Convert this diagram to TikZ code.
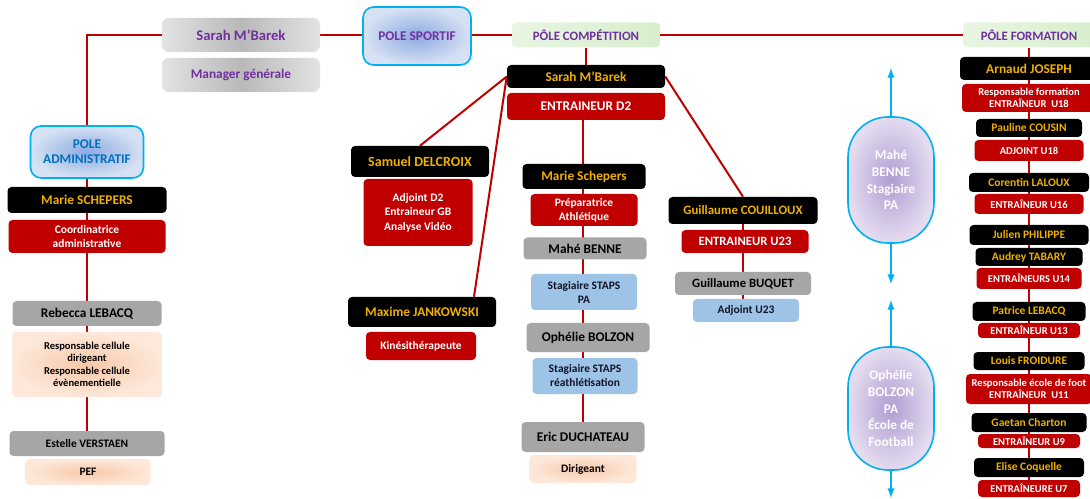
\documentclass[tikz,border=0pt]{standalone}
\usepackage{fontspec}
\setmainfont{Carlito}
\usetikzlibrary{backgrounds,calc}

\definecolor{rouge}{RGB}{192,0,0}
\definecolor{jaune}{RGB}{240,176,0}
\definecolor{mauve}{RGB}{112,48,160}
\definecolor{cyanb}{RGB}{0,176,240}
\definecolor{bleuc}{RGB}{157,195,230}
\definecolor{bleut}{RGB}{0,112,192}
\definecolor{grisf}{RGB}{166,166,166}
\definecolor{nuit}{RGB}{20,20,40}

\tikzset{
  wh/.style 2 args={minimum width={#1*0.75pt}, minimum height={#2*0.75pt}},
  fs/.style 2 args={font=\bfseries\fontsize{#1}{#2}\selectfont},
  boite/.style={rounded corners=3pt, inner sep=0pt, align=center},
  noir/.style={boite, fill=black, text=jaune},
  role/.style={boite, fill=rouge, text=white},
  gris/.style={boite, fill=grisf, text=black},
  bleu/.style={boite, fill=bleuc, text=nuit},
  peche/.style={boite, inner color={rgb,255:red,248;green,200;blue,168}, outer color={rgb,255:red,253;green,232;blue,218}, text=black},
  titre/.style={boite, rounded corners=5pt, left color=gray!22, right color=gray!22, middle color=gray!55, text=mauve},
  pole/.style={boite, rounded corners=8pt, draw=cyanb, line width=1.2pt, inner color={rgb,255:red,140;green,170;blue,225}, outer color={rgb,255:red,214;green,225;blue,243}},
  vert/.style={boite, left color={rgb,255:red,232;green,245;blue,226}, right color={rgb,255:red,216;green,238;blue,206}, text=mauve},
  ovale/.style={boite, rounded corners=30pt, draw=cyanb, line width=1.2pt, inner color={rgb,255:red,176;green,156;blue,210}, outer color={rgb,255:red,228;green,220;blue,240}, text=white},
  lien/.style={rouge, line width=1.5pt},
  fleche/.style={->, cyanb, line width=1.5pt},
}

\begin{document}
\begin{tikzpicture}[x=0.75pt, y=-0.75pt, >=latex]
    \useasboundingbox (0,0) rectangle (1090,499);

    % direction
    \node[titre, wh={158}{34}, fs={11}{12}] (sarahT) at (241,35) {Sarah M’Barek};
    \node[titre, wh={158}{34}, fs={10}{12}] (manager) at (241,75) {Manager générale};
    \node[pole, wh={108}{58}, fs={10}{12}, text=mauve] (sportif) at (417,36) {POLE SPORTIF};
    \node[vert, wh={148}{25}, fs={9.6}{11}] (compet) at (586,35) {PÔLE COMPÉTITION};
    \node[vert, wh={132}{25}, fs={9.6}{11}] (forma) at (1029,35) {PÔLE FORMATION};

    % pole administratif
    \node[pole, wh={113}{52}, fs={10}{11.25}, text=bleut] (admin) at (87,152) {POLE\\ADMINISTRATIF};
    \node[noir, wh={159}{26}, fs={10}{11}] (marieA) at (87,200) {Marie SCHEPERS};
    \node[role, wh={157}{33}, fs={8.6}{11}] (coord) at (87,236.5) {Coordinatrice\\administrative};
    \node[gris, wh={149}{25}, fs={10}{11}] (rebecca) at (87,313.5) {Rebecca LEBACQ};
    \node[peche, wh={150}{65}, fs={7.9}{9.4}] (cellule) at (87,364.5) {Responsable cellule\\dirigeant\\Responsable cellule\\évènementielle};
    \node[gris, wh={155}{25}, fs={8.6}{10}] (estelle) at (87,443.5) {Estelle VERSTAEN};
    \node[peche, wh={125}{26}, fs={8.6}{10}] (pef) at (88,472) {PEF};

    % pole competition
    \node[noir, wh={158}{23}, fs={10}{11}] (sarahC) at (586,76.5) {Sarah M’Barek};
    \node[role, wh={158}{27}, fs={10}{11}] (entD2) at (586,106.5) {ENTRAINEUR D2};

    \node[noir, wh={138}{31}, fs={10.5}{12}] (samuel) at (420,161.5) {Samuel DELCROIX};
    \node[role, wh={109}{67}, fs={8.6}{10.9}] (adjD2) at (418,212.5) {Adjoint D2\\Entraineur GB\\Analyse Vidéo};
    \node[noir, wh={148}{30}, fs={10}{12}] (maxime) at (422,312) {Maxime JANKOWSKI};
    \node[role, wh={110}{28}, fs={8.6}{10}] (kine) at (421,346) {Kinésithérapeute};

    \node[noir, wh={123}{25}, fs={10}{11}] (marieC) at (584,176.5) {Marie Schepers};
    \node[role, wh={107}{32}, fs={8.6}{10.5}] (prepa) at (584,210) {Préparatrice\\Athlétique};
    \node[gris, wh={123}{22}, fs={10}{11}] (mahe) at (585,248.5) {Mahé BENNE};
    \node[bleu, wh={106}{36}, fs={8.6}{10.5}] (stagPA) at (584,292) {Stagiaire STAPS\\PA};
    \node[gris, wh={123}{29}, fs={10}{11}] (ophelie) at (588,337.5) {Ophélie BOLZON};
    \node[bleu, wh={105}{36}, fs={8.6}{10.5}] (stagRe) at (585,376) {Stagiaire STAPS\\réathlétisation};
    \node[gris, wh={123}{30}, fs={10}{11}] (eric) at (583,437) {Eric DUCHATEAU};
    \node[peche, wh={107}{28}, fs={8.6}{10}] (dirig) at (583,469) {Dirigeant};

    \node[noir, wh={149}{27}, fs={9.6}{11}] (couill) at (743,210.5) {Guillaume COUILLOUX};
    \node[role, wh={127}{23}, fs={9.5}{11}] (entU23) at (745,241.5) {ENTRAINEUR U23};
    \node[gris, wh={136}{23}, fs={9.5}{11}] (buquet) at (743,283.5) {Guillaume BUQUET};
    \node[bleu, wh={106}{23}, fs={8.6}{10}] (adjU23) at (746,310.5) {Adjoint U23};

    % stagiaires
    \node[ovale, wh={86}{126}, fs={10}{12.5}] (ovA) at (891,180) {Mahé\\BENNE\\Stagiaire\\PA};
    \node[ovale, wh={86}{123}, fs={10}{12.5}] (ovB) at (891,408.5) {Ophélie\\BOLZON\\PA\\École de\\Football};
    \coordinate (hA) at (891,68);
    \coordinate (bA) at (891,284);
    \coordinate (hB) at (891,300);
    \coordinate (bB) at (891,498);
    \draw[fleche] (ovA.north) -- (hA);
    \draw[fleche] (ovA.south) -- (bA);
    \draw[fleche] (ovB.north) -- (hB);
    \draw[fleche] (ovB.south) -- (bB);

    % pole formation
    \node[noir, wh={138}{23}, fs={10}{11}] (arnaud) at (1029,68.5) {Arnaud JOSEPH};
    \foreach \n/\y/\w/\h/\txt in {pauline/128/106/18/Pauline COUSIN, corentin/182.5/120/19/Corentin LALOUX,
        julien/235/119/20/Julien PHILIPPE, audrey/257/107/18/Audrey TABARY, patrice/311.5/113/19/Patrice LEBACQ,
        louis/361/111/18/Louis FROIDURE, gaetan/422.5/115/19/Gaetan Charton, elise/467.5/110/19/Elise Coquelle}
    {
        \node[noir, wh={\w}{\h}, fs={8.6}{10}] (\n) at (1029,\y) {\txt};
    }
    \foreach \n/\y/\w/\h/\txt in {respForm/98/134/28/{Responsable formation\\ENTRAÎNEUR~ U18}, adjU18/150.5/109/21/ADJOINT U18,
        entU16/204/109/20/ENTRAÎNEUR U16, entU14/278.5/105/21/ENTRAÎNEURS U14, entU13/330.5/102/15/ENTRAÎNEUR U13,
        respEcole/389/126/30/{Responsable école de foot\\ENTRAÎNEUR~ U11}, entU9/441/102/14/ENTRAÎNEUR U9,
        entU7/488.5/102/17/ENTRAÎNEURE U7}
    {
        \node[role, wh={\w}{\h}, fs={7.9}{9.2}] (\n) at (1029,\y) {\txt};
    }

    \begin{scope}[on background layer]
        \draw[lien] (sarahT.west) -| (estelle.north);
        \draw[lien] (sarahT) -- (sportif.west |- sarahT) (sportif.east |- sarahT) -- (forma);
        \draw[lien] (compet) -- (sarahC);
        \draw[lien] (sarahC.west) -- (samuel.north);
        \draw[lien] (sarahC.west) -- ($(maxime.north)!.7!(maxime.north east)$);
        \draw[lien] (sarahC.east) -- (couill.north);
        \draw[lien] (couill) -- (couill |- adjU23.north);
        \draw[lien] (entD2.south -| eric.north) -- (eric.north);
        \draw[lien] (forma) -- (entU7);
    \end{scope}

\end{tikzpicture}
\end{document}
